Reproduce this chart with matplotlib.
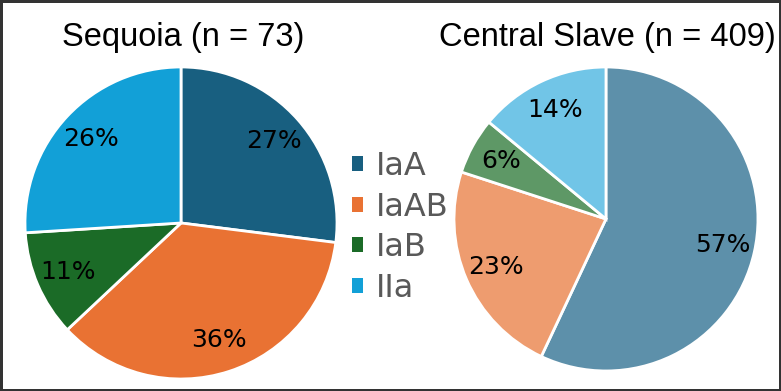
import matplotlib.pyplot as plt
from matplotlib.patches import Patch

categories = ["IaA", "IaAB", "IaB", "IIa"]
sequoia_pct = [27, 36, 11, 26]
slave_pct = [57, 23, 6, 14]
titles = ["Sequoia (n = 73)", "Central Slave (n = 409)"]

dark_colors = ["#185F80", "#E97233", "#1B6B27", "#12A0D7"]
light_colors = ["#5D90AA", "#EE9C6F", "#5E9866", "#71C5E7"]

fig = plt.figure(figsize=(7.81, 3.91), dpi=100, linewidth=2.5, edgecolor="#333333")

ax1 = fig.add_axes([0.032, 0.0307, 0.3995, 0.798])
ax2 = fig.add_axes([0.5813, 0.0512, 0.3892, 0.7775])

for ax, vals, cols in [(ax1, sequoia_pct, dark_colors), (ax2, slave_pct, light_colors)]:
    wedges, texts, autotexts = ax.pie(vals, colors=cols, startangle=90, counterclock=False,
                                      autopct='%.0f%%', pctdistance=0.79,
                                      wedgeprops=dict(edgecolor='white', linewidth=2))
    for t in autotexts:
        t.set_fontsize(18)
        t.set_color('black')
    ax.set_xlim(-1.0, 1.0)
    ax.set_ylim(-1.0, 1.0)
    ax.set_aspect('equal')

fig.text(0.234, 0.905, titles[0], ha='center', va='center', fontsize=23.5, family='Liberation Sans')
fig.text(0.778, 0.905, titles[1], ha='center', va='center', fontsize=23.5, family='Liberation Sans')

handles = [Patch(facecolor=c) for c in dark_colors]
leg = fig.legend(handles, categories, loc='center left', bbox_to_anchor=(0.43, 0.418),
                 frameon=False, fontsize=23, handlelength=0.35, handleheight=0.35,
                 handletextpad=0.4, labelspacing=0.3, borderpad=0)
for t in leg.get_texts():
    t.set_color('#595959')

plt.savefig("out.png", dpi=100)
